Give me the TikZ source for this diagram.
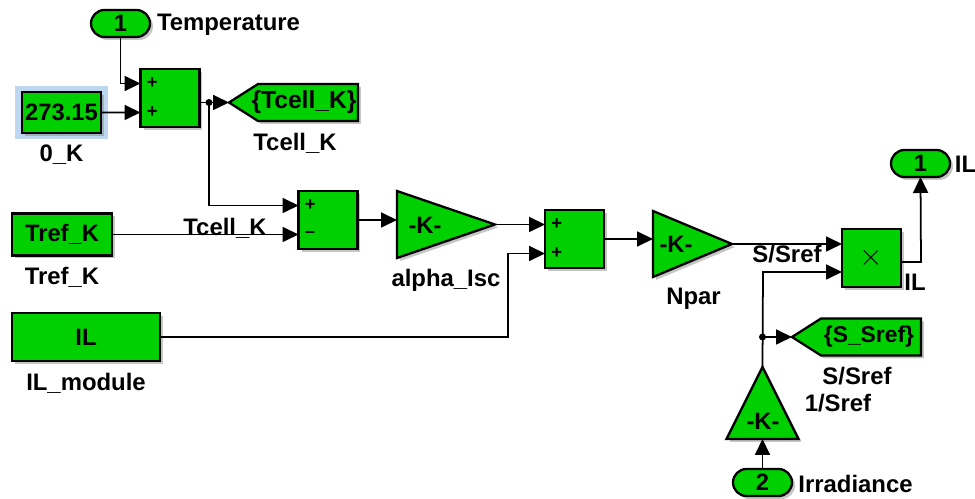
\documentclass[tikz,border=0pt]{standalone}
\usepackage{fontspec}
\setmainfont{Liberation Sans}
\usetikzlibrary{arrows.meta,shapes.geometric,shapes.misc,shapes.symbols,shadows,calc}
\definecolor{blockgreen}{RGB}{0,208,0}
\definecolor{haloblue}{RGB}{190,215,240}
\tikzset{
    block/.style={draw=black, line width=1.3pt, fill=blockgreen, inner sep=0pt, outer sep=0pt,
        drop shadow={shadow xshift=0.06cm, shadow yshift=-0.06cm, opacity=0.45},
        font=\fontsize{13.5}{15}\selectfont\bfseries},
    sumblock/.style={block, minimum width=1.18cm, minimum height=1.16cm},
    port/.style={block, rounded rectangle, minimum width=1.18cm, minimum height=0.54cm},
    gainblock/.style={block, isosceles triangle, isosceles triangle stretches},
    gotoblock/.style={block, signal, signal to=west, signal from=nowhere, signal pointer angle=65,
        minimum height=0.74cm},
    wire/.style={line width=1pt, -{Triangle[length=0.32cm,width=0.3cm]}},
    sign/.style={font=\fontsize{10.5}{12}\selectfont\bfseries, inner sep=0pt},
    blocklabel/.style={font=\fontsize{13.6}{15}\selectfont\bfseries, inner sep=0pt, anchor=center},
}
\begin{document}
\begin{tikzpicture}[x=0.02cm, y=-0.02cm]
    \useasboundingbox (0,0) rectangle (975,499);

    % Halo behind the constant
    \fill[haloblue] (15,86) rectangle (108,139);

    % Sum blocks and product
    \node[sumblock] (sumT) at (170,98) {};
    \node[sumblock] (sumD) at (328,220) {};
    \node[sumblock] (sumI) at (574.5,239) {};
    \node[sumblock] (prod) at (871.5,258) {\fontsize{17}{17}\selectfont\normalfont$\times$};

    % Sources
    \node[block, minimum width=1.58cm, minimum height=0.82cm] (zeroK) at (61.5,112.5) {273.15};
    \node[block, minimum width=2cm, minimum height=0.84cm] (tref) at (62,234.5) {Tref\_K};
    \node[block, minimum width=2.96cm, minimum height=0.96cm] (ilmod) at (86,337) {IL};

    % Ports
    \node[port] (temp) at (120.5,23.5) {1};
    \node[port] (irr) at (762.5,482.5) {2};
    \node[port] (out) at (920.5,163.5) {1};

    % Gains
    \node[gainblock, minimum width=1.34cm, minimum height=1.96cm, anchor=apex] (alpha) at (495,224.5) {};
    \node[gainblock, minimum width=1.32cm, minimum height=1.58cm, anchor=apex] (npar) at (732,244) {};
    \node[gainblock, shape border rotate=90, minimum width=1.44cm, minimum height=1.44cm, anchor=apex] (sref) at (762.5,367) {};
    \node[font=\fontsize{13.5}{15}\selectfont\bfseries] (alphaK) at (425,225) {-K-};
    \node[font=\fontsize{13.5}{15}\selectfont\bfseries] (nparK) at (676,244) {-K-};
    \node[font=\fontsize{13.5}{15}\selectfont\bfseries] (srefK) at (763,421) {-K-};

    % Gotos
    \node[gotoblock, minimum width=2.58cm, anchor=west] (gotoT) at (229,102.5) {};
    \node[gotoblock, minimum width=2.58cm, anchor=west] (gotoS) at (792,337) {};
    \node[font=\fontsize{14}{15}\selectfont\bfseries] (gotoTtxt) at (304,102) {\{Tcell\_K\}};
    \node[font=\fontsize{13}{15}\selectfont\bfseries] (gotoStxt) at (869,337) {\{S\_Sref\}};

    % Signs on the sums
    \foreach \name/\blk/\s/\txt in {a/sumT/0.29/+, b/sumT/-0.29/+, c/sumD/0.29/+, d/sumD/-0.29/--, e/sumI/0.29/+, f/sumI/-0.29/+}
        \node[sign, anchor=west] (sign\name) at ([xshift=0.12cm, yshift=\s cm]\blk.west) {\txt};

    % Junctions and bends
    \coordinate (bendT) at (temp.south |- signa);
    \coordinate (jT) at (209,102.5);
    \coordinate (bendD) at (jT |- signc);
    \coordinate (bendI) at (508,337);
    \coordinate (jS) at (sref.apex |- gotoS.west);
    \coordinate (bendP) at (763,272);
    \coordinate (bendO) at (921,262);
    \fill (jT) circle (0.07cm);
    \fill (jS) circle (0.07cm);

    % Signals
    \draw[wire] (temp.south) -- (bendT) -- ([yshift=0.29cm]sumT.west);
    \draw[wire] (zeroK.east |- sumT.west) ++(0,14.5) -- ([yshift=-0.29cm]sumT.west);
    \draw[wire] (sumT.east |- gotoT.west) -- (gotoT.west);
    \draw[wire] (jT) -- (bendD) -- ([yshift=0.29cm]sumD.west);
    \draw[wire] (tref.east) -- (tref.east -| sumD.west);
    \draw[wire] (sumD.east) -- (alpha.left corner |- sumD.east);
    \draw[wire] (alpha.apex) -- (alpha.apex -| sumI.west);
    \draw[wire] (ilmod.east) -- (bendI) -- (bendI |- signf) -- (signf -| sumI.west);
    \draw[wire] (sumI.east) -- (npar.left corner |- sumI.east);
    \draw[wire] (npar.apex) -- (npar.apex -| prod.west);
    \draw[wire] (sref.apex) -- (bendP) -- (bendP -| prod.west);
    \draw[wire] (jS) -- (gotoS.west);
    \draw[wire] (bendO -| prod.east) -- (bendO) -- (out.south);
    \draw[wire] (irr.north) -- (sref.south);

    % Labels
    \foreach \name/\x/\y/\txt in {lTemp/228.5/25/Temperature, lZero/61.5/155/0\_K, lTcellG/295/143/Tcell\_K,
        lTcellW/225/228/Tcell\_K, lTref/62/277/Tref\_K, lMod/86/383/IL\_module, lAlpha/446/280/alpha\_Isc,
        lNpar/693.5/299/Npar, lSref/787/254/{S/Sref}, lProd/915/282/IL, lOut/965.5/164/IL,
        lS/857/376/{S/Sref}, lOne/838/403/{1/Sref}, lIrr/855.5/484/Irradiance}
        \node[blocklabel] (\name) at (\x,\y) {\txt};
\end{tikzpicture}
\end{document}
